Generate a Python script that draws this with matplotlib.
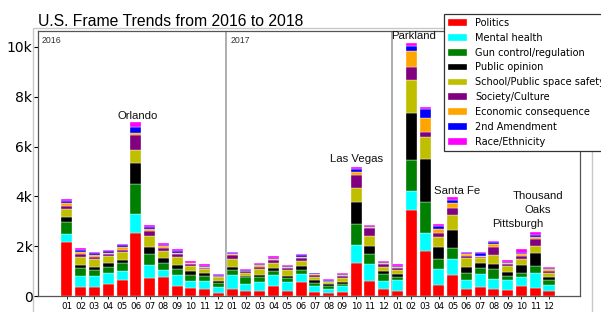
import matplotlib
matplotlib.use("Agg")
import matplotlib.pyplot as plt
from matplotlib.patches import Rectangle
import numpy as np

months = ["01", "02", "03", "04", "05", "06", "07", "08", "09", "10", "11", "12"]
years = ["2016", "2017", "2018"]
categories = ["Politics", "Mental health", "Gun control/regulation", "Public opinion",
              "School/Public space safety", "Society/Culture", "Economic consequence",
              "2nd Amendment", "Race/Ethnicity"]
colors = ["#ff0000", "#00ffff", "#008000", "#000000", "#bfbf00", "#800080",
          "#ffa500", "#0000ff", "#ff00ff"]

politics = [2157, 349, 349, 495, 643, 2542, 723, 750, 402, 308, 294, 134,
            268, 214, 200, 415, 200, 549, 174, 107, 147, 1339, 616, 268,
            200, 3454, 1807, 442, 857, 281, 348, 281, 241, 415, 308, 200]
mental_health = [345, 466, 441, 442, 374, 751, 522, 294, 441, 308, 308, 241,
                 575, 268, 349, 415, 349, 348, 241, 187, 268, 709, 669, 348,
                 443, 775, 711, 642, 629, 362, 522, 388, 402, 362, 629, 242]
gun_control = [458, 309, 254, 241, 321, 1205, 430, 268, 228, 227, 201, 134,
               201, 268, 228, 174, 161, 147, 94, 108, 67, 830, 390, 254,
               134, 1233, 1269, 402, 429, 268, 241, 402, 160, 160, 268, 201]
public_opinion = [225, 108, 134, 134, 108, 831, 305, 200, 174, 148, 108, 107,
                  134, 67, 80, 107, 93, 161, 147, 80, 67, 884, 333, 147,
                  93, 1900, 1703, 494, 735, 254, 201, 214, 174, 295, 535, 134]
school_safety = [295, 322, 308, 281, 321, 551, 418, 282, 335, 214, 160, 134,
                 321, 120, 214, 228, 241, 214, 121, 67, 174, 563, 414, 161,
                 174, 1313, 908, 402, 603, 348, 201, 348, 228, 241, 268, 160]
society_culture = [134, 121, 94, 82, 93, 586, 225, 146, 107, 67, 67, 40,
                   148, 54, 107, 107, 80, 107, 66, 40, 80, 534, 309, 94,
                   94, 535, 200, 135, 294, 107, 67, 321, 80, 133, 268, 80]
economic = [109, 92, 67, 52, 120, 67, 80, 68, 53, 40, 40, 27,
            53, 26, 54, 40, 41, 54, 27, 27, 40, 134, 53, 53,
            40, 629, 538, 160, 175, 53, 40, 121, 53, 67, 107, 54]
second_amendment = [92, 68, 66, 67, 56, 242, 80, 53, 80, 27, 40, 26,
                    27, 27, 40, 54, 27, 53, 41, 27, 27, 107, 40, 40,
                    40, 201, 361, 147, 133, 40, 93, 80, 41, 40, 67, 40]
race_ethnicity = [93, 80, 67, 53, 52, 225, 68, 54, 80, 53, 54, 41,
                  40, 27, 53, 53, 40, 54, 26, 26, 41, 94, 40, 54,
                  54, 110, 81, 67, 108, 40, 54, 67, 53, 187, 107, 54]

series = [politics, mental_health, gun_control, public_opinion, school_safety,
          society_culture, economic, second_amendment, race_ethnicity]

# event annotations: (label, x in bar units, y in data units)
events = [("Orlando", 5.16, 7110), ("Las Vegas", 21.0, 5380), ("Parkland", 25.2, 10300),
          ("Santa Fe", 28.3, 4096), ("Pittsburgh", 32.75, 2771),
          ("Thousand", 34.2, 3896), ("Oaks", 34.2, 3333)]

fig = plt.figure(figsize=(6.01, 3.12), dpi=100)
fig.add_artist(Rectangle((33 / 601, -0.2), (592 - 33) / 601, 1.2 - 28.5 / 312,
                         transform=fig.transFigure, fill=False, edgecolor="#c8c8c8",
                         lw=1.0, zorder=-1))
ax = fig.add_axes([38 / 601, 16 / 312, 542 / 601, 265 / 312])

n = len(politics)
x = np.arange(n)
bottom = np.zeros(n)
for vals, col, lab in zip(series, colors, categories):
    v = np.array(vals, dtype=float)
    ax.bar(x, v, width=0.8, bottom=bottom, color=col, label=lab,
           edgecolor="white", linewidth=0.25)
    bottom += v

ax.set_xlim(-2.1, 37.25)
ax.set_ylim(0, 10640)
ax.set_xticks(x)
ax.set_xticklabels(months * len(years), fontsize=6.3)
ax.set_yticks([0, 2000, 4000, 6000, 8000, 10000])
ax.set_yticklabels(["0", "2k", "4k", "6k", "8k", "10k"], fontsize=10)
ax.tick_params(axis="x", length=2, pad=2, width=0.6)
ax.tick_params(axis="y", length=3, pad=1, width=0.8)
for s in ax.spines.values():
    s.set_color("#555555")
    s.set_linewidth(0.9)

for sep in [11.55, 23.6]:
    ax.axvline(sep, color="#a0a0a0", lw=1.2, zorder=0.5)

ax.text(-1.82, 10450, "2016", fontsize=6.3, color="#333333", va="top",
        family="Liberation Sans")
ax.text(11.9, 10450, "2017", fontsize=6.3, color="#333333", va="top",
        family="Liberation Sans")

for lab, ex, ey in events:
    ax.text(ex, ey, lab, ha="center", va="baseline", fontsize=8.2,
            family="Liberation Sans", color="#111111", clip_on=False)

fig.text(38 / 601, 1 - 26 / 312, "U.S. Frame Trends from 2016 to 2018",
         fontsize=11.3, family="Liberation Sans", va="baseline", ha="left")

leg = ax.legend(loc="upper left", bbox_to_anchor=(444 / 601, 1 - 14 / 312),
                bbox_transform=fig.transFigure, borderaxespad=0, fontsize=7,
                fancybox=False, framealpha=1, edgecolor="#333333")
leg.get_frame().set_linewidth(0.9)

fig.savefig("out.png", dpi=100)
